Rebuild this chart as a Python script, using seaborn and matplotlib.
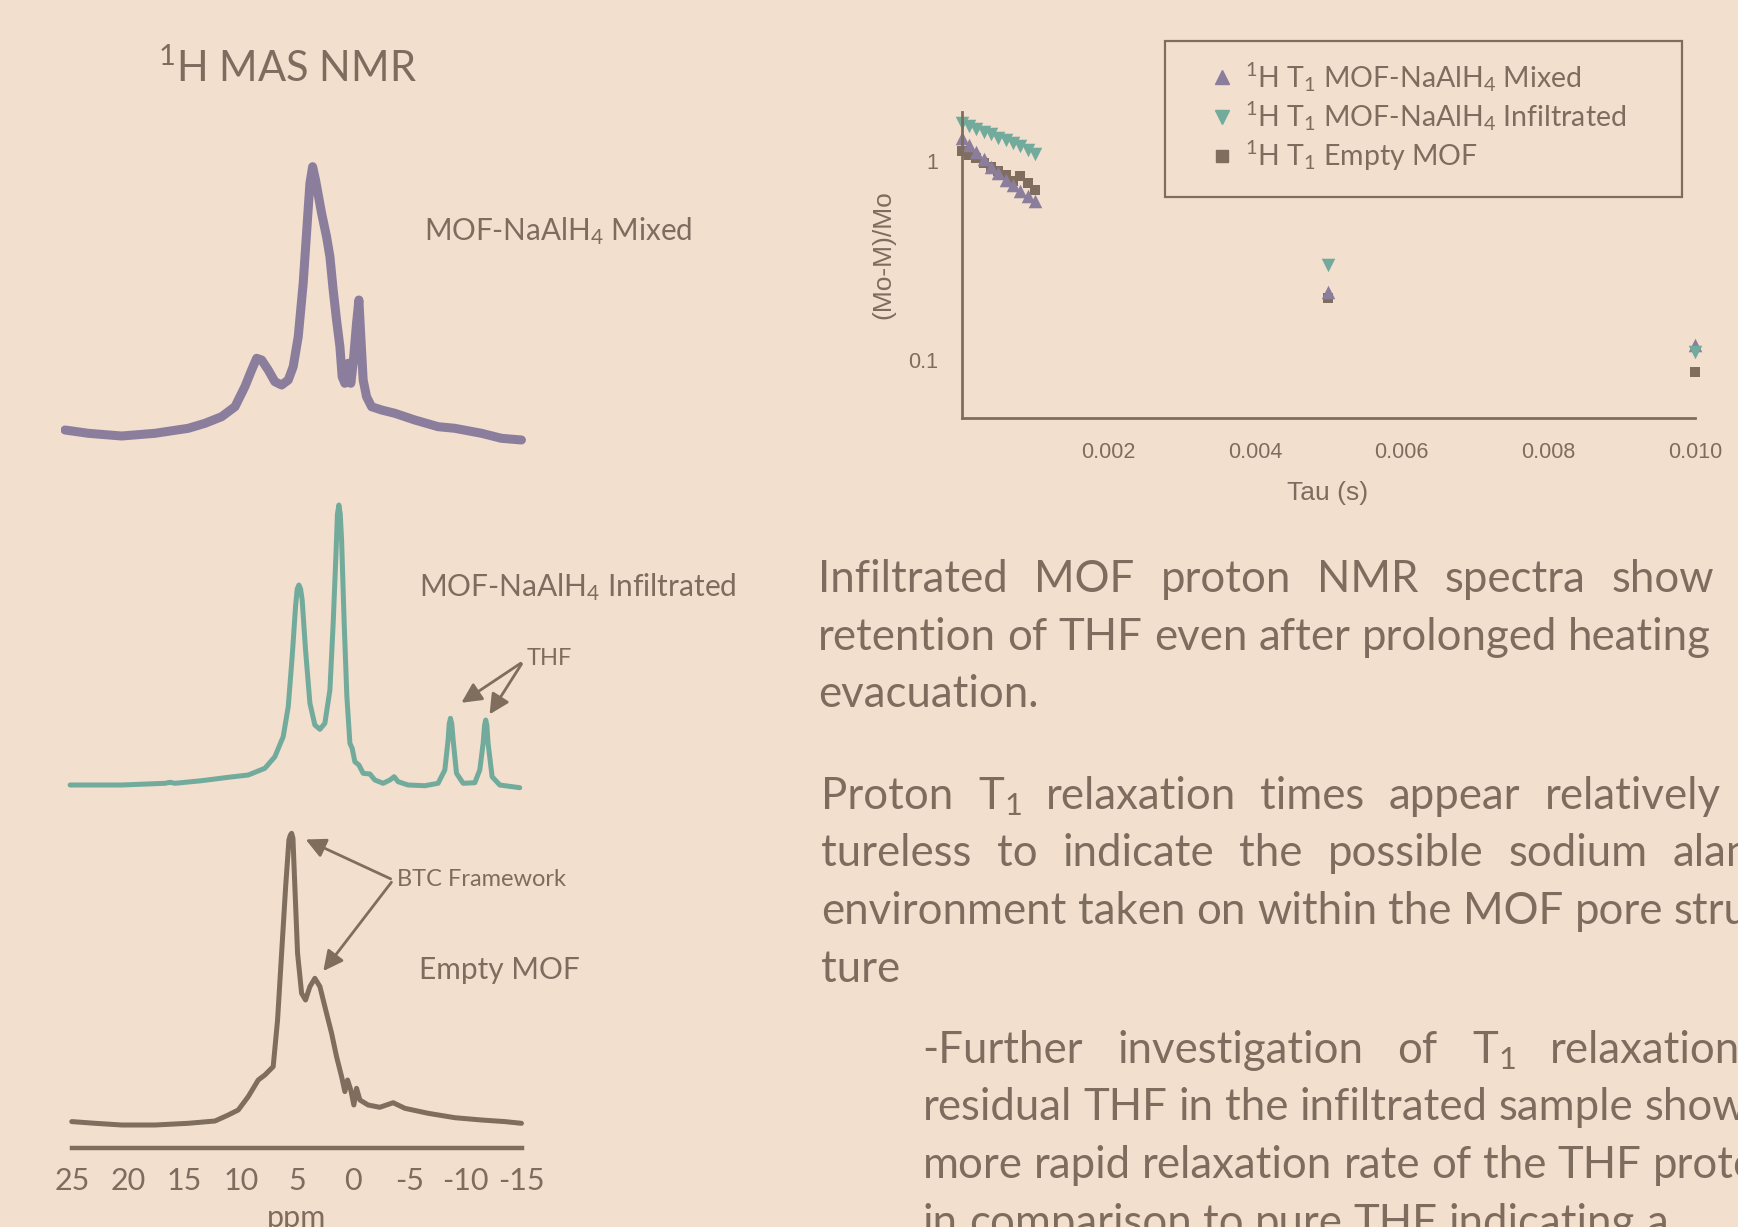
import numpy as np
import seaborn as sns
import matplotlib
matplotlib.use('Agg')
import matplotlib.pyplot as plt
from matplotlib.patches import Rectangle
from matplotlib.lines import Line2D
from matplotlib.ticker import NullFormatter

# colours
bg = '#f2dfce'
txt = '#7e6d5e'
purple = '#8b7d9c'
teal = '#72ab9c'
brown = '#7f6d5d'

# 1H MAS NMR spectra (ppm, intensity in a.u. above own baseline)
mixed_ppm = [25.65, 23.58, 20.61, 17.64, 14.68, 13.19, 11.71, 10.52, 9.64, 9.04, 8.59, 8.15,
             7.56, 6.97, 6.37, 5.78, 5.34, 4.89, 4.45, 4.15, 3.85, 3.61, 3.35, 2.81, 2.37,
             2.07, 1.78, 1.48, 1.18, 0.98, 0.74, 0.44, 0.21, 0.0, -0.30, -0.51, -0.68, -0.89,
             -1.19, -1.64, -2.53, -3.71, -5.49, -7.56, -9.05, -11.42, -13.2, -14.98]
mixed_int = [10, 6.7, 4, 6.7, 11.7, 16.7, 23.3, 33.3, 53.3, 70, 81.7, 80, 70, 58.3, 55, 60,
             73.3, 103.3, 156.7, 206.7, 256.7, 273.3, 260, 226.7, 203.3, 183.3, 150, 120,
             93.3, 63.3, 56.7, 76.7, 56.7, 76.7, 116.7, 140, 103.3, 60, 43.3, 33.3, 30,
             26.7, 20, 13.3, 11.7, 6.7, 1.7, 0]

infil_ppm = [25.2, 20.61, 16.75, 16.3, 15.86, 13.49, 11.12, 9.34, 7.86, 6.97, 6.23, 5.78,
             5.43, 5.13, 4.98, 4.83, 4.68, 4.54, 4.24, 3.85, 3.41, 2.96, 2.52, 2.07, 1.78,
             1.54, 1.40, 1.27, 1.15, 1.03, 0.80, 0.56, 0.29, 0.09, -0.15, -0.51, -0.89,
             -1.49, -1.93, -2.67, -3.27, -3.65, -4.0, -4.89, -6.38, -7.56, -8.16, -8.45,
             -8.55, -8.66, -8.78, -8.9, -9.2, -9.79, -10.83, -11.27, -11.57, -11.7, -11.8,
             -11.9, -12.01, -12.37, -13.05, -14.83]
infil_int = [0, 0, 1.7, 2.7, 1.7, 4.3, 7.7, 10, 16.7, 28.3, 48.3, 78.3, 128.3, 178.3, 196,
             200, 196, 185, 135, 81.7, 60, 55.7, 61.7, 95, 161.7, 228.3, 271, 280, 271, 245,
             161.7, 88.3, 41.7, 36.7, 23.3, 20, 11.7, 11, 5, 1.7, 5, 8.3, 3.3, 0, -0.7, 1.7,
             15, 45, 61, 66.7, 61, 45, 11.7, 1.7, 2.3, 15, 41.7, 60, 65, 60, 41.7, 8.3, 0,
             -2.7]

empty_ppm = [25.05, 22.98, 20.61, 17.64, 14.68, 12.3, 11.12, 10.23, 9.34, 8.45, 7.86, 7.12,
             6.73, 6.37, 6.01, 5.72, 5.6, 5.48, 5.36, 5.25, 4.95, 4.59, 4.24, 3.85, 3.41,
             2.96, 2.52, 1.92, 1.48, 1.03, 0.74, 0.5, 0.21, -0.06, -0.30, -0.6, -1.33,
             -2.37, -3.56, -4.6, -6.67, -9.05, -11.42, -13.5, -14.98]
empty_int = [1.7, 0, -1.7, -1.7, 0, 2.3, 8.3, 13.3, 26.7, 43.3, 48.3, 56.7, 103.3, 170,
             236.7, 283.3, 288, 290, 285, 253.3, 170, 130, 123.3, 136.7, 145, 136.7, 116.7,
             90, 66.7, 46.7, 31.7, 43.3, 33.3, 18.3, 35, 23.3, 18.3, 16, 20.6, 15, 10, 5.6,
             3.3, 1.7, 0]

ppm_ticks = [25, 20, 15, 10, 5, 0, -5, -10, -15]

# 1H T1 relaxation, (Mo-M)/Mo vs tau
tau = [0.0, 0.0001, 0.0002, 0.0003, 0.0004, 0.0005, 0.0006, 0.0007, 0.0008, 0.0009,
       0.001, 0.005, 0.010]
t1_mixed = [1.31, 1.21, 1.12, 1.03, 0.94, 0.87, 0.81, 0.76, 0.71, 0.67, 0.63, 0.221, 0.119]
t1_infil = [1.56, 1.51, 1.46, 1.41, 1.37, 1.32, 1.28, 1.24, 1.19, 1.14, 1.09, 0.301, 0.110]
t1_empty = [1.13, 1.08, 1.04, 0.98, 0.94, 0.90, 0.85, 0.80, 0.84, 0.78, 0.72, 0.206, 0.0867]
legend_labels = ['$^1$H T$_1$ MOF-NaAlH$_4$ Mixed',
                 '$^1$H T$_1$ MOF-NaAlH$_4$ Infiltrated',
                 '$^1$H T$_1$ Empty MOF']

sns.set_style('white')
plt.rcParams['font.family'] = ['Lato', 'DejaVu Sans']
plt.rcParams['mathtext.default'] = 'regular'
plt.rcParams['text.color'] = txt

W, H = 1738, 1227
fig = plt.figure(figsize=(W / 100, H / 100), dpi=100, facecolor=bg)


def fx(x):
    return x / W


def fy(y):
    return 1 - y / H


# ---- spectra ----
ax = fig.add_axes([61.1 / W, (H - 1148) / H, 471.8 / W, 1008 / H])
ax.set_facecolor('none')
sns.lineplot(x=mixed_ppm, y=np.array(mixed_int) + 708, sort=False, estimator=None,
             color=purple, lw=6.5, ax=ax)
sns.lineplot(x=infil_ppm, y=np.array(infil_int) + 363, sort=False, estimator=None,
             color=teal, lw=3.6, ax=ax)
sns.lineplot(x=empty_ppm, y=np.array(empty_int) + 24.7, sort=False, estimator=None,
             color=brown, lw=3.6, ax=ax)
for l in ax.lines:
    l.set_solid_joinstyle('round')
    l.set_solid_capstyle('round')
ax.set_xlim(26, -16)
ax.set_ylim(0, 1008)
for s in ['left', 'top', 'right']:
    ax.spines[s].set_visible(False)
ax.spines['bottom'].set_bounds(25, -15)
ax.spines['bottom'].set_linewidth(3.2)
ax.spines['bottom'].set_color(brown)
ax.set_yticks([])
ax.set_xticks(ppm_ticks, [str(t) for t in ppm_ticks])
ax.tick_params(axis='x', direction='in', length=5, width=3, color=brown,
               labelcolor=txt, labelsize=22, pad=14)
ax.set_xlabel('ppm', fontsize=22, color=txt, labelpad=6)

arrow = dict(arrowstyle='-|>', color=brown, lw=2, mutation_scale=30)
ax.annotate('', xy=(-9.43, 443.7), xytext=(-15.12, 486.3), arrowprops=arrow)
ax.annotate('', xy=(-12.01, 431.3), xytext=(-15.12, 486.3), arrowprops=arrow)
ax.annotate('', xy=(4.45, 309.7), xytext=(-3.56, 268), arrowprops=arrow)
ax.annotate('', xy=(2.81, 174.7), xytext=(-3.56, 268), arrowprops=arrow)

fig.text(fx(158), fy(82), '$^1$H MAS NMR', fontsize=30, va='baseline')
fig.text(fx(424), fy(240), 'MOF-NaAlH$_4$ Mixed', fontsize=21.3, va='baseline')
fig.text(fx(419), fy(596), 'MOF-NaAlH$_4$ Infiltrated', fontsize=21.5, va='baseline')
fig.text(fx(419), fy(979), 'Empty MOF', fontsize=21.5, va='baseline')
fig.text(fx(527), fy(665), 'THF', fontsize=17, va='baseline')
fig.text(fx(397), fy(886), 'BTC Framework', fontsize=17, va='baseline')

# ---- T1 plot ----
ax2 = fig.add_axes([961.5 / W, (H - 418) / H, 733.5 / W, 306 / H])
ax2.set_facecolor('none')
sns.scatterplot(x=tau, y=t1_empty, marker='s', s=55, color=brown, linewidth=0,
                clip_on=False, ax=ax2)
sns.scatterplot(x=tau, y=t1_mixed, marker='^', s=95, color=purple, linewidth=0,
                clip_on=False, ax=ax2)
sns.scatterplot(x=tau, y=t1_infil, marker='v', s=95, color=teal, linewidth=0,
                clip_on=False, ax=ax2)
ax2.set_yscale('log')
ax2.set_xlim(0, 0.010)
ax2.set_ylim(0.0510, 1.775)
for s in ['top', 'right']:
    ax2.spines[s].set_visible(False)
for s in ['left', 'bottom']:
    ax2.spines[s].set_linewidth(2)
    ax2.spines[s].set_color(brown)
arial = 'Liberation Sans'
ax2.set_xticks([0.002, 0.004, 0.006, 0.008, 0.010],
               ['0.002', '0.004', '0.006', '0.008', '0.010'],
               fontfamily=arial, fontsize=15.5, color=txt)
ax2.set_xticks([0.001, 0.003, 0.005, 0.007, 0.009], minor=True)
ax2.set_yticks([0.1, 1], ['0.1', '1'], fontfamily=arial, fontsize=15.5, color=txt)
ax2.set_yticks([0.06, 0.07, 0.08, 0.09, 0.2, 0.3, 0.4, 0.5, 0.6, 0.7, 0.8, 0.9],
               minor=True)
ax2.yaxis.set_minor_formatter(NullFormatter())
ax2.tick_params(which='major', direction='out', length=11, width=1.8, color=brown, pad=6)
ax2.tick_params(which='minor', direction='out', length=5.5, width=1.8, color=brown)
ax2.set_xlabel('Tau (s)', fontfamily=arial, fontsize=19, color=txt)
ax2.set_ylabel('(Mo-M)/Mo', fontfamily=arial, fontsize=19, color=txt)
ax2.xaxis.label.set_va('center')
ax2.yaxis.label.set_va('center')
ax2.xaxis.set_label_coords(0.4997, -0.245)
ax2.yaxis.set_label_coords(-0.107, 0.533)

handles = [Line2D([], [], ls='', marker='^', color=purple, ms=9.5),
           Line2D([], [], ls='', marker='v', color=teal, ms=9.5),
           Line2D([], [], ls='', marker='s', color=brown, ms=8)]
fig.legend(handles, legend_labels, loc='upper left', bbox_to_anchor=(fx(1205), fy(60)),
           frameon=False, fontsize=20.5, labelcolor=txt, handletextpad=0.22,
           labelspacing=0.2, handlelength=1.2, borderpad=0, borderaxespad=0)
fig.patches.append(Rectangle((fx(1165), fy(197)), (1682 - 1165) / W, 156 / H,
                             transform=fig.transFigure, fill=False, ec=brown, lw=1.6))

# ---- body text, justified line by line ----
renderer = fig.canvas.get_renderer()
body = 31.5


def text_width(s, size):
    t = fig.text(0, 0, s, fontsize=size)
    w = t.get_window_extent(renderer).width
    t.remove()
    return w


def draw_line(words, x0, y, x_last=None, size=body):
    objs = [fig.text(0, 0, w, fontsize=size, va='baseline') for w in words]
    ws = [o.get_window_extent(renderer).width for o in objs]
    if x_last is None or len(words) == 1:
        gap = text_width('a a', size) - text_width('aa', size)
    else:
        gap = (x_last - x0 - sum(ws[:-1])) / (len(words) - 1)
    x = x0
    for o, w in zip(objs, ws):
        o.set_position((fx(x), fy(y)))
        x += w + gap


draw_line(['Infiltrated', 'MOF', 'proton', 'NMR', 'spectra', 'show'], 818, 592, 1612)
draw_line('retention of THF even after prolonged heating'.split(), 818, 650)
draw_line(['evacuation.'], 818, 707)
draw_line(['Proton', 'T$_1$', 'relaxation', 'times', 'appear', 'relatively'], 821, 809, 1545)
draw_line(['tureless', 'to', 'indicate', 'the', 'possible', 'sodium', 'alanate'], 821, 866.5, 1673)
draw_line('environment taken on within the MOF pore struc-'.split(), 821, 924)
draw_line(['ture'], 821, 982)
draw_line(['-Further', 'investigation', 'of', 'T$_1$', 'relaxation'], 922.6, 1063, 1550)
draw_line('residual THF in the infiltrated sample shows'.split(), 922.6, 1120)
draw_line('more rapid relaxation rate of the THF protons'.split(), 922.6, 1178)
draw_line('in comparison to pure THF indicating a'.split(), 922.6, 1236)

fig.savefig('out.png', dpi=100, facecolor=bg)
